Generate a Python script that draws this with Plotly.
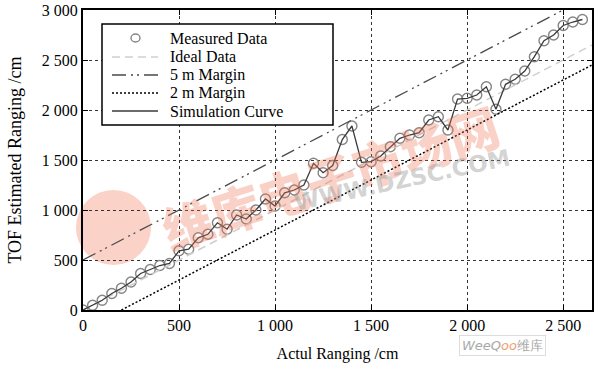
import plotly.graph_objects as go

# ---- data ----
actual_cm = [0, 50, 100, 150, 200, 250, 300, 350, 400, 450, 500, 550, 600, 650, 700,
             750, 800, 850, 900, 950, 1000, 1050, 1100, 1150, 1200, 1250, 1300, 1350,
             1400, 1450, 1500, 1550, 1600, 1650, 1700, 1750, 1800, 1850, 1900, 1950,
             2000, 2050, 2100, 2150, 2200, 2250, 2300, 2350, 2400, 2450, 2500, 2550, 2600]
measured_cm = [0, 47, 97, 165, 217, 280, 365, 405, 445, 465, 592, 608, 722, 757, 872,
               808, 950, 910, 1000, 1110, 1040, 1172, 1200, 1250, 1467, 1373, 1445, 1705,
               1840, 1477, 1483, 1540, 1633, 1717, 1750, 1773, 1900, 1933, 1800, 2110,
               2117, 2150, 2233, 2007, 2257, 2307, 2390, 2533, 2693, 2750, 2845, 2880, 2905]

ref_x = [0, 2650]
ideal_y = [0, 2650]
margin5_x = [0, 2500]
margin5_y = [500, 3000]
margin2_x = [200, 2650]
margin2_y = [0, 2450]

x_ticks = [0, 500, 1000, 1500, 2000, 2500]
x_ticktext = ["0", "500", "1 000", "1 500", "2 000", "2 500"]
y_ticks = [0, 500, 1000, 1500, 2000, 2500, 3000]
y_ticktext = ["0", "500", "1 000", "1 500", "2 000", "2 500", "3 000"]

FONT = "Liberation Serif, Times New Roman, serif"

W, H = 600, 368
# plot area in page pixels
L, R, T, B = 83, 592, 10, 310


def px(xp):
    return (xp - L) / (R - L)


def py(yp):
    return (B - yp) / (B - T)


STYLES = {
    "Measured Data": dict(symbol="circle-open", size=10, color="#858585", width=1.4),
    "Ideal Data": dict(color="#cfcfcf", width=1.5, dash="8px,5px"),
    "5 m Margin": dict(color="#4a4a4a", width=1.3, dash="14px,5px,2px,4px,2px,5px"),
    "2 m Margin": dict(color="#000000", width=1.5, dash="2px,2px"),
    "Simulation Curve": dict(color="#3a3a3a", width=1.3),
}

fig = go.Figure()

m = STYLES["Measured Data"]
fig.add_trace(go.Scatter(
    x=actual_cm, y=measured_cm, mode="markers", name="Measured Data",
    marker=dict(symbol=m["symbol"], size=m["size"], color=m["color"],
                line=dict(width=m["width"], color=m["color"])),
))
fig.add_trace(go.Scatter(x=ref_x, y=ideal_y, mode="lines", name="Ideal Data",
                         line=STYLES["Ideal Data"]))
fig.add_trace(go.Scatter(x=margin5_x, y=margin5_y, mode="lines", name="5 m Margin",
                         line=STYLES["5 m Margin"]))
fig.add_trace(go.Scatter(x=margin2_x, y=margin2_y, mode="lines", name="2 m Margin",
                         line=STYLES["2 m Margin"]))
fig.add_trace(go.Scatter(x=actual_cm, y=measured_cm, mode="lines", name="Simulation Curve",
                         line=STYLES["Simulation Curve"]))

# ---- watermarks ----
fig.add_shape(type="circle", xref="paper", yref="paper",
              x0=px(76), x1=px(151), y0=py(265), y1=py(190),
              fillcolor="rgba(240,125,95,0.35)", line=dict(width=0), layer="below")
fig.add_annotation(text="维库电子市场网", xref="paper", yref="paper",
                   x=px(330), y=py(176), showarrow=False, textangle=-18,
                   font=dict(family="Noto Sans CJK SC", size=50, weight=900,
                             color="rgba(240,115,85,0.33)"))
fig.add_annotation(text="WWW.DZSC.COM", xref="paper", yref="paper",
                   x=px(402), y=py(180), showarrow=False, textangle=-12,
                   font=dict(family="DejaVu Sans", size=23, weight="bold",
                             color="rgba(150,150,150,0.42)"))
fig.add_annotation(text="<i>WeeQ</i><i><span style='color:#f0a070'>oo</span></i>维库",
                   xref="paper", yref="paper", x=px(546), y=py(356), showarrow=False,
                   bordercolor="#dddddd", borderwidth=1, bgcolor="white", borderpad=2,
                   font=dict(family="DejaVu Sans", size=13, color="#a8a8a8"))

# ---- legend (drawn box) ----
fig.add_shape(type="rect", xref="paper", yref="paper",
              x0=px(102), x1=px(333), y0=py(125), y1=py(24),
              fillcolor="white", line=dict(color="black", width=1.5), layer="above")
legend_rows = [("Measured Data", 38), ("Ideal Data", 57), ("5 m Margin", 75),
               ("2 m Margin", 93), ("Simulation Curve", 111)]
for name, yrow in legend_rows:
    st = STYLES[name]
    if name == "Measured Data":
        fig.add_shape(type="circle", xref="paper", yref="paper",
                      x0=px(131), x1=px(140), y0=py(42), y1=py(34),
                      line=dict(color=st["color"], width=st["width"]), layer="above")
    else:
        fig.add_shape(type="line", xref="paper", yref="paper",
                      x0=px(112), x1=px(158), y0=py(yrow), y1=py(yrow),
                      line=dict(color=st["color"], width=st["width"], dash=st.get("dash", "solid")),
                      layer="above")
    fig.add_annotation(text=name, xref="paper", yref="paper", x=px(168), y=py(yrow),
                       xanchor="left", yanchor="middle", showarrow=False,
                       font=dict(family=FONT, size=16, color="black"))

axis_common = dict(
    showline=True, linecolor="black", linewidth=2, mirror="ticks",
    ticks="inside", ticklen=5, tickcolor="black", tickwidth=1,
    showgrid=True, gridcolor="#333333", gridwidth=1, griddash="dot",
    zeroline=False, tickfont=dict(family=FONT, size=16, color="black"),
    automargin=False, ticklabeloverflow="allow",
)

fig.update_layout(
    width=W, height=H,
    margin=dict(l=L, r=W - R, t=T, b=H - B),
    paper_bgcolor="white", plot_bgcolor="white",
    font=dict(family=FONT, color="black"),
    showlegend=False,
    xaxis=dict(range=[0, 2650], tickvals=x_ticks, ticktext=x_ticktext,
               title=dict(text="Actul Ranging /cm", font=dict(family=FONT, size=16)),
               **axis_common),
    yaxis=dict(range=[0, 3000], tickvals=y_ticks, ticktext=y_ticktext,
               title=dict(text="TOF Estimated Ranging /cm", font=dict(family=FONT, size=18)),
               **axis_common),
)

# remove the browser's default 8px page margin so the figure fills the window
fig.write_html("out.html", config={"displayModeBar": False},
               post_script="document.body.style.margin='0';")
